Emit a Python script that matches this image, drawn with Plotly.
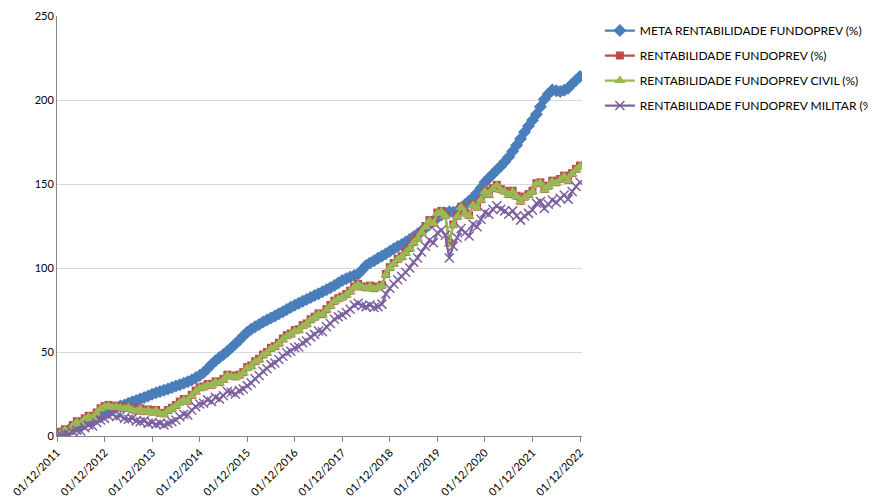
import plotly.graph_objects as go

# Monthly dates, 01/12/2011 .. 01/12/2022 (133 points)
years = list(range(2011, 2023))
tick_labels = ["01/12/%d" % y for y in years]

meta = [
    0, 1.2, 2.4, 3.5, 4.6, 5.7, 6.8, 7.9, 9.0, 10.2, 11.4, 12.6, 13.8,
    15.0, 16.0, 17.0, 17.8, 18.5, 19.5, 20.4, 21.2, 22.0, 22.9, 23.8, 24.8,
    25.7, 26.5, 27.3, 28.0, 28.8, 29.7, 30.5, 31.4, 32.3, 33.4, 34.6, 36.0,
    37.8, 40.0, 42.5, 44.8, 46.7, 48.5, 50.5, 52.6, 54.8, 57.0, 59.5, 61.8,
    63.5, 65.0, 66.4, 67.8, 69.0, 70.2, 71.5, 72.8, 74.0, 75.3, 76.6, 77.9,
    79.0, 80.2, 81.3, 82.5, 83.6, 84.6, 85.8, 87.0, 88.3, 89.6, 91.0, 92.5,
    93.6, 94.7, 95.6, 96.5, 98.8, 101.5, 103.0, 104.3, 105.8, 107.2, 108.5, 110.0,
    111.4, 112.8, 114.0, 115.5, 117.0, 118.6, 120.3, 122.0, 123.9, 125.8, 127.8, 130.0,
    131.5, 132.8, 133.5, 133.2, 134.0, 135.8, 137.8, 139.8, 142.0, 144.5, 147.5, 151.0,
    153.5, 156.0, 158.3, 160.5, 163.2, 166.0, 169.5, 173.0, 177.0, 181.0, 184.5, 188.0,
    191.5, 196.0, 200.5, 203.5, 206.0, 205.5, 205.0, 205.8, 207.0, 209.5, 211.8, 214.0,
]

fundoprev = [
    0, 2.5, 4.0, 3.2, 6.5, 8.8, 8.0, 10.5, 12.0, 11.0, 14.0, 16.5, 17.8,
    18.5, 17.5, 18.0, 17.2, 16.8, 17.5, 16.0, 15.2, 16.5, 14.8, 15.8, 14.5,
    15.5, 13.8, 13.5, 15.5, 16.8, 18.5, 20.5, 22.0, 21.0, 24.5, 27.0, 29.0,
    29.5, 31.0, 30.5, 32.5, 32.0, 34.0, 36.5, 36.0, 35.5, 36.5, 38.0, 41.0,
    42.0, 44.5, 46.0, 48.5, 50.0, 52.5, 53.5, 55.5, 58.0, 60.0, 61.0, 63.0,
    63.5, 66.0, 67.0, 69.5, 71.0, 73.0, 72.5, 75.5, 78.0, 80.5, 82.0, 83.0,
    84.5, 86.5, 89.0, 90.5, 89.0, 88.5, 89.5, 88.0, 89.0, 90.0, 96.5, 100.5,
    103.0, 105.5, 107.0, 109.5, 112.0, 115.5, 118.0, 121.5, 125.0, 128.5, 127.0, 133.0,
    134.0, 131.5, 115.0, 126.0, 131.0, 136.5, 133.0, 131.5, 138.0, 136.5, 141.0, 146.0,
    144.0, 147.5, 149.5, 147.0, 146.0, 144.0, 146.0, 143.0, 140.0, 142.5, 144.0, 146.0,
    150.5, 151.0, 147.0, 149.0, 152.0, 151.0, 153.0, 155.0, 152.5, 156.5, 159.0, 161.0,
]

civil = [
    0, 2.0, 3.5, 2.8, 6.0, 8.2, 7.5, 10.0, 11.5, 10.5, 13.5, 16.0, 17.2,
    17.8, 17.0, 17.4, 16.6, 16.2, 16.9, 15.5, 14.7, 16.0, 14.3, 15.2, 14.0,
    15.0, 13.3, 13.0, 15.0, 16.2, 18.0, 20.0, 21.4, 20.5, 24.0, 26.4, 28.4,
    29.0, 30.4, 30.0, 32.0, 31.4, 33.4, 36.0, 35.4, 35.0, 36.0, 37.5, 40.4,
    41.4, 44.0, 45.4, 48.0, 49.4, 52.0, 53.0, 55.0, 57.4, 59.4, 60.5, 62.4,
    63.0, 65.4, 66.5, 69.0, 70.4, 72.4, 72.0, 75.0, 77.4, 80.0, 81.4, 82.5,
    84.0, 86.0, 88.4, 90.0, 88.5, 88.0, 89.0, 87.5, 88.4, 89.5, 96.0, 100.0,
    102.4, 105.0, 106.5, 109.0, 111.4, 115.0, 117.4, 121.0, 124.4, 128.0, 126.5, 132.4,
    133.5, 131.0, 114.0, 125.4, 130.5, 136.0, 132.5, 131.0, 137.4, 136.0, 140.5, 145.4,
    143.4, 147.0, 149.0, 146.4, 145.4, 143.5, 145.4, 142.5, 139.4, 142.0, 143.4, 145.4,
    150.0, 150.4, 146.4, 148.5, 151.4, 150.5, 152.4, 154.4, 152.0, 156.0, 158.4, 160.4,
]

militar = [
    0, 0.5, 1.5, 1.0, 2.5, 3.5, 3.0, 5.0, 6.5, 6.0, 8.0, 9.5, 10.5,
    12.0, 13.0, 11.5, 12.0, 10.5, 10.0, 10.5, 9.0, 8.5, 9.0, 7.5, 8.0,
    7.0, 7.5, 6.5, 7.5, 8.5, 9.5, 11.5, 13.0, 12.5, 15.5, 17.5, 19.0,
    19.5, 21.5, 20.5, 23.0, 22.0, 24.0, 26.5, 26.0, 25.0, 27.0, 28.0, 30.0,
    31.5, 34.0, 36.0, 38.5, 40.0, 42.5, 43.5, 45.5, 47.5, 49.5, 50.5, 52.5,
    53.0, 55.5, 56.5, 59.0, 60.5, 62.5, 62.0, 65.0, 67.0, 69.5, 71.0, 72.0,
    73.5, 75.5, 78.0, 79.0, 77.5, 77.0, 78.0, 76.5, 77.0, 78.5, 84.5, 88.0,
    90.5, 93.0, 95.0, 97.5, 100.0, 103.5, 106.0, 109.5, 113.0, 116.5, 115.0, 121.0,
    122.5, 119.5, 106.0, 113.0, 118.0, 123.5, 121.0, 119.0, 126.0, 124.5, 129.0, 133.0,
    132.0, 135.0, 137.0, 135.0, 134.0, 132.0, 134.0, 131.0, 128.5, 131.0, 132.5, 134.5,
    138.5, 139.5, 135.5, 138.0, 140.5, 139.0, 141.5, 143.5, 141.0, 145.5, 148.5, 151.0,
]

names = [
    "META RENTABILIDADE FUNDOPREV (%)",
    "RENTABILIDADE FUNDOPREV (%)",
    "RENTABILIDADE FUNDOPREV CIVIL (%)",
    "RENTABILIDADE FUNDOPREV MILITAR (%)",
]
colors = ["#4A7EBB", "#BE4B48", "#98B954", "#7D60A0"]
symbols = ["diamond", "square", "triangle-up", "x-thin"]
sizes = [10, 8, 10, 9]

series = [meta, fundoprev, civil, militar]
x = list(range(len(meta)))

fig = go.Figure()
for i, (vals, nm, c, s, sz) in enumerate(zip(series, names, colors, symbols, sizes)):
    marker = dict(symbol=s, size=sz, color=c)
    if s == "x-thin":
        marker["line"] = dict(color=c, width=1.5)
    else:
        marker["line"] = dict(width=0)
    fig.add_trace(go.Scatter(
        x=x, y=vals, name=nm, mode="lines+markers",
        line=dict(color=c, width=2.25), marker=marker,
        legendgroup="g%d" % i,
    ))

# The page places the figure 8px from the top-left corner (default body margin)
fig.update_layout(
    width=868, height=493,
    margin=dict(l=49, r=294, t=8, b=65, autoexpand=False),
    paper_bgcolor="white", plot_bgcolor="white",
    font=dict(family="Lato, Noto Sans, sans-serif", size=11, color="#000000"),
    showlegend=True,
    legend=dict(
        x=1.034, y=1.0, xanchor="left", yanchor="top",
        font=dict(size=12, color="#000000"),
        tracegroupgap=6, bgcolor="rgba(0,0,0,0)",
    ),
)
fig.update_xaxes(
    range=[0, 132.5], automargin=False,
    tickmode="array", tickvals=[12 * k for k in range(len(tick_labels))],
    ticktext=tick_labels, tickangle=-45,
    showgrid=False, zeroline=False,
    showline=True, linecolor="#868686", linewidth=1,
    ticks="outside", ticklen=5, tickcolor="#868686",
    tickfont=dict(size=11),
)
fig.update_yaxes(
    range=[0, 250], automargin=False, tickvals=[0, 50, 100, 150, 200, 250],
    showgrid=True, gridcolor="#D9D9D9", gridwidth=1,
    zeroline=False, showline=True, linecolor="#868686", linewidth=1,
    ticks="", tickfont=dict(size=11),
)

fig.write_html("out.html")
